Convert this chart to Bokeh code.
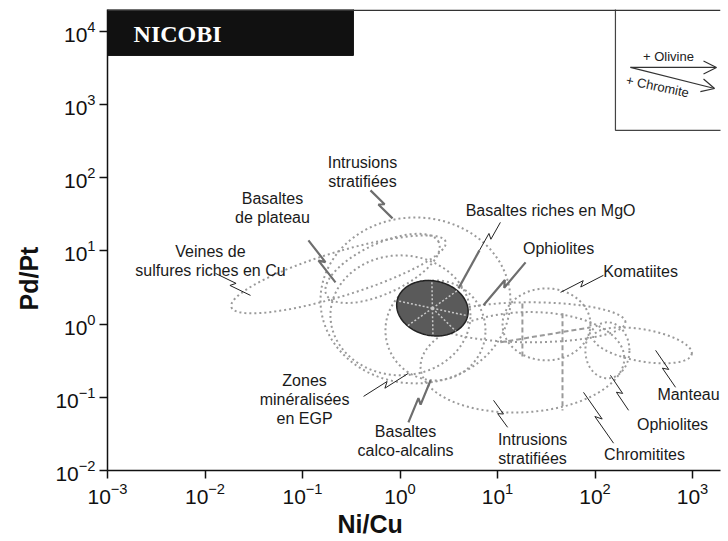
import numpy as np
from bokeh.plotting import figure
from bokeh.models import Range1d, Arrow, OpenHead, Span, FixedTicker, Title
from bokeh.core.properties import value
from bokeh.embed import file_html
from bokeh.resources import INLINE

# ---------------- data ----------------
x_lo_dec, x_hi_dec = -3.0, 3.287          # log10(Ni/Cu) shown
y_lo_dec, y_hi_dec = -2.0, 4.30           # log10(Pd/Pt) shown
x_ticks = [1e-3, 1e-2, 1e-1, 1e0, 1e1, 1e2, 1e3]
y_ticks = [1e-2, 1e-1, 1e0, 1e1, 1e2, 1e3, 1e4]

# NICOBI samples (filled ellipse): centre, semi-axes (decades of Ni/Cu), tilt (deg)
nicobi_nicu = 2.15
nicobi_pdpt = 1.65
nicobi_semi_a = 0.37
nicobi_semi_b = 0.28
nicobi_tilt = -12.0
spoke_angles = [0, 55, 100, 180, 235, 280, 320]

# reference fields (dotted outlines)
field_names = ["Veines Cu", "Intrusions strat. haut", "Basaltes de plateau", "Zones EGP",
               "Basaltes calco-alcalins", "Ophiolites haut", "Komatiites",
               "Intrusions strat. bas", "Manteau", "Ophiolites bas"]
field_nicu = [0.234, 1.44, 0.662, 1.01, 2.31, 21.8, 31.8, 18.0, 307, 134]
field_pdpt = [4.79, 2.11, 5.78, 1.32, 0.822, 1.06, 0.993, 0.301, 0.513, 0.439]
field_semi_a = [1.149, 0.974, 0.636, 0.718, 0.513, 0.974, 0.451, 1.046, 0.513, 0.226]
field_semi_b = [0.226, 0.851, 0.256, 0.615, 0.513, 0.205, 0.369, 0.513, 0.164, 0.287]
field_tilt = [17, 0, 25, 0, 0, 0, 0, 3, -10, 0]

# trend lines inside the fields
trend_nicu = [[46.4, 46.4], [10.7, 90.0], [18.0, 18.0]]
trend_pdpt = [[1.41, 0.066], [0.564, 0.904], [1.92, 0.341]]

# field labels
label_texts = ["Intrusions\nstratifiées", "Basaltes\nde plateau", "Veines de\nsulfures riches en Cu",
               "Basaltes riches en MgO", "Ophiolites", "Komatiites",
               "Zones\nminéralisées\nen EGP", "Basaltes\ncalco-alcalins", "Intrusions\nstratifiées",
               "Chromitites", "Ophiolites", "Manteau"]
label_nicu = [0.412, 0.0492, 0.01138, 35.0, 42.3, 293, 0.105, 1.14, 22.9, 322, 624, 910]
label_pdpt = [118.6, 38.2, 7.21, 35.9, 10.9, 5.26, 0.094, 0.0251, 0.0195, 0.0166, 0.0428, 0.110]

# leaders (from label to field)
leader_x0 = [0.498, 0.115, 0.0128, 10.7, 19.4, 122, 0.423, 1.22, 12.7, 155, 221, 670]
leader_y0 = [67.3, 13.96, 4.94, 24.6, 6.98, 4.65, 0.103, 0.0455, 0.0389, 0.0236, 0.0664, 0.137]
leader_x1 = [0.838, 0.218, 0.0293, 6.53, 7.18, 44.3, 1.22, 2.06, 9.10, 76.2, 144, 418]
leader_y1 = [27.9, 3.72, 2.47, 10.2, 1.81, 2.72, 0.213, 0.171, 0.0910, 0.117, 0.200, 0.439]
leader_gray = [True, True, False, False, True, False, False, True, False, False, False, False]
mgo_tail_x = [6.53, 3.98]
mgo_tail_y = [10.2, 3.08]

# inset (crystallisation trends)
inset_left, inset_bottom = 162, 445
arrow_start = (231, 3221)
olivine_end = (1762, 3221)
chromite_end = (1683, 1663)

# ---------------- figure ----------------
W, H = 726, 540
BL, BR, BT, BB = 107, 6, 9, 70
p = figure(width=W, height=H, x_axis_type="log", y_axis_type="log",
           x_range=Range1d(10 ** x_lo_dec, 10 ** x_hi_dec),
           y_range=Range1d(10 ** y_lo_dec, 10 ** y_hi_dec),
           output_backend="svg", toolbar_location=None,
           min_border_left=BL, min_border_right=BR, min_border_top=BT, min_border_bottom=BB)
p.outline_line_color = None
p.grid.visible = False
p.background_fill_color = "white"
p.border_fill_color = "white"

SX = (W - BL - BR) / (x_hi_dec - x_lo_dec)   # px per decade
SY = (H - BT - BB) / (y_hi_dec - y_lo_dec)

for ax, ticks in ((p.xaxis, x_ticks), (p.yaxis, y_ticks)):
    ax.ticker = FixedTicker(ticks=ticks)
    ax.minor_tick_line_color = None
    ax.major_tick_in = 0
    ax.major_tick_out = 8
    ax.axis_line_width = 1.5
    ax.major_tick_line_width = 1.5
    ax.axis_line_color = "#111"
    ax.major_tick_line_color = "#111"
    ax.major_label_text_font = "Liberation Sans"
    ax.major_label_text_font_size = "21px"
    ax.major_label_text_color = "#111"
    ax.major_label_standoff = 4


def ellipse(cx, cy, a, b, tilt, n=160):
    t = np.linspace(0, 2 * np.pi, n)
    u = a * SX * np.cos(t)
    v = b * SX * np.sin(t)
    th = np.radians(tilt)
    dx = u * np.cos(th) - v * np.sin(th)
    dy = u * np.sin(th) + v * np.cos(th)
    return 10 ** (np.log10(cx) + dx / SX), 10 ** (np.log10(cy) + dy / SY)


# dotted fields
fxs, fys = [], []
for cx, cy, a, b, tl in zip(field_nicu, field_pdpt, field_semi_a, field_semi_b, field_tilt):
    ex, ey = ellipse(cx, cy, a, b, tl)
    fxs.append(list(ex)); fys.append(list(ey))
p.multi_line(fxs, fys, line_color="#9a9a9a", line_width=2, line_dash="2 3")
p.multi_line(trend_nicu, trend_pdpt, line_color="#9a9a9a", line_width=2, line_dash="5 3")

# NICOBI filled ellipse
nx, ny = ellipse(nicobi_nicu, nicobi_pdpt, nicobi_semi_a, nicobi_semi_b, nicobi_tilt)
p.patch(list(nx), list(ny), fill_color="#5a5a5a", line_color="#222", line_width=1.5)
sxs, sys_ = [], []
for ang in spoke_angles:
    t = np.radians(ang)
    u = nicobi_semi_a * SX * np.cos(t); v = nicobi_semi_b * SX * np.sin(t)
    th = np.radians(nicobi_tilt)
    dx = u * np.cos(th) - v * np.sin(th); dy = u * np.sin(th) + v * np.cos(th)
    ex = 10 ** (np.log10(nicobi_nicu) + dx / SX); ey = 10 ** (np.log10(nicobi_pdpt) + dy / SY)
    sxs.append([nicobi_nicu, ex]); sys_.append([nicobi_pdpt, ey])
p.multi_line(sxs, sys_, line_color="#c8c8c8", line_width=1.5, line_dash="2 2")


# leaders with lightning zig-zag
def zigzag(x0, y0, x1, y1):
    X0, Y0 = np.log10(x0) * SX, np.log10(y0) * SY
    X1, Y1 = np.log10(x1) * SX, np.log10(y1) * SY
    d = np.array([X1 - X0, Y1 - Y0]); L = np.hypot(*d); d = d / L
    nrm = np.array([-d[1], d[0]])
    S = np.array([X0, Y0])
    pts = [S, S + d * L * 0.55 + nrm * 2.5, S + d * L * 0.45 - nrm * 2.5, np.array([X1, Y1])]
    return [10 ** (q[0] / SX) for q in pts], [10 ** (q[1] / SY) for q in pts]


gx, gy, bx, by = [], [], [], []
for x0, y0, x1, y1, g in zip(leader_x0, leader_y0, leader_x1, leader_y1, leader_gray):
    zx, zy = zigzag(x0, y0, x1, y1)
    if g:
        gx.append(zx); gy.append(zy)
    else:
        bx.append(zx); by.append(zy)
gx.append(mgo_tail_x); gy.append(mgo_tail_y)
p.multi_line(gx, gy, line_color="#6e6e6e", line_width=2.2)
p.multi_line(bx, by, line_color="#222", line_width=1)

# labels
p.text(label_nicu, label_pdpt, text=label_texts, text_font=value("Liberation Sans"),
       text_font_size="16px", text_align="center", text_baseline="middle",
       text_color="#1a1a1a", text_line_height=1.12)

# NICOBI title box
p.quad(left=[10 ** -3.05], right=[0.333], bottom=[4700], top=[10 ** 4.5],
       fill_color="#111", line_color="#111")
p.text([0.00185], [9300], text=["NICOBI"], text_font=value("Liberation Serif"),
       text_font_style="bold", text_font_size="24px", text_color="white",
       text_align="left", text_baseline="middle")

# inset box
p.quad(left=[inset_left], right=[10 ** 3.6], bottom=[inset_bottom], top=[10 ** 4.5],
       fill_color="white", line_color="#444", line_width=1.2)
for end in (olivine_end, chromite_end):
    p.add_layout(Arrow(end=OpenHead(size=13, line_width=1.2, line_color="#333"),
                       x_start=arrow_start[0], y_start=arrow_start[1],
                       x_end=end[0], y_end=end[1], line_color="#333", line_width=1.2))
p.text([567], [4550], text=["+ Olivine"], text_font=value("Liberation Sans"),
       text_font_size="13px", text_align="center", text_baseline="middle", text_color="#222")
p.text([437], [1775], text=["+ Chromite"], text_font=value("Liberation Sans"),
       text_font_size="13px", text_align="center", text_baseline="middle", text_color="#222",
       angle=-0.21)

# frame top line
p.add_layout(Span(location=10 ** (y_hi_dec - 0.01), dimension="width", line_color="#333", line_width=1.5))

# axis titles
p.add_layout(Title(text="Pd/Pt", align="left", offset=160, text_font="Liberation Sans",
                   text_font_style="bold", text_font_size="25px", text_color="#111",
                   standoff=20), "left")
p.add_layout(Title(text="Ni/Cu", align="left", offset=230, text_font="Liberation Sans",
                   text_font_style="bold", text_font_size="25px", text_color="#111",
                   standoff=2), "below")

with open("out.html", "w", encoding="utf-8") as f:
    f.write(file_html(p, INLINE))
